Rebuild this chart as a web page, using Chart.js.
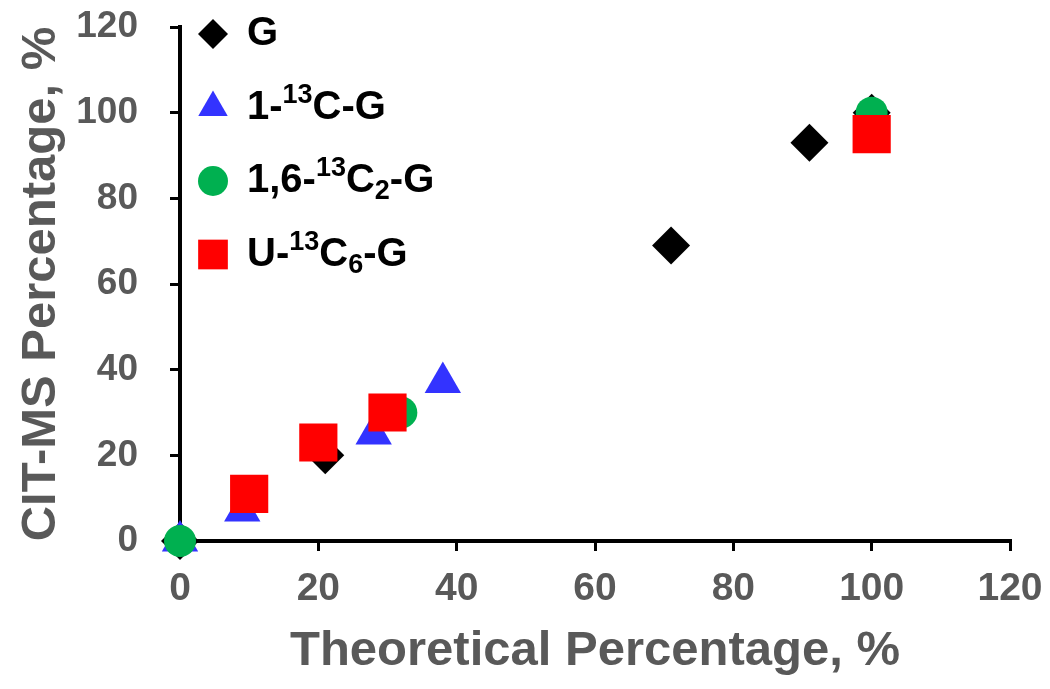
<!DOCTYPE html>
<html>
<head>
<meta charset="utf-8">
<title>CIT-MS vs Theoretical Percentage</title>
<script src="https://cdn.jsdelivr.net/npm/chart.js@4.4.0/dist/chart.umd.min.js"></script>
<style>
  body { margin: 0; background: #fff; }
  #contenedor { width: 1050px; height: 689px; }
</style>
</head>
<body>
<div id="contenedor"><canvas id="grafico"></canvas></div>
<script>
// Valores (porcentaje teórico vs porcentaje CIT-MS)
const gX = [0, 21, 71, 91, 100];
const gY = [0, 20, 69, 93, 100];

const c1X = [0, 9, 28, 38];
const c1Y = [0, 7, 25, 37];

const c2X = [0, 32, 100];
const c2Y = [0, 30, 100];

const c6X = [10, 20, 30, 100];
const c6Y = [11, 23, 30, 95];

const xTicks = [0, 20, 40, 60, 80, 100, 120];
const yTicks = [0, 20, 40, 60, 80, 100, 120];

// Etiquetas de la leyenda, con superíndices y subíndices
const leyenda = [
  [{ t: 'G' }],
  [{ t: '1-' }, { t: '13', s: 'sup' }, { t: 'C-G' }],
  [{ t: '1,6-' }, { t: '13', s: 'sup' }, { t: 'C' }, { t: '2', s: 'sub' }, { t: '-G' }],
  [{ t: 'U-' }, { t: '13', s: 'sup' }, { t: 'C' }, { t: '6', s: 'sub' }, { t: '-G' }]
];

const FUENTE = "'Liberation Sans', Arial, sans-serif";
const GRIS = '#595959';

function puntos(xs, ys) {
  return xs.map((x, i) => ({ x: x, y: ys[i] }));
}

function serie(xs, ys, estilo, color, radio, orden) {
  return {
    data: puntos(xs, ys),
    pointStyle: estilo,
    pointRadius: radio,
    pointHoverRadius: radio,
    backgroundColor: color,
    borderColor: color,
    borderWidth: 0,
    showLine: false,
    clip: false,
    order: orden
  };
}

// Tamaños de los marcadores en la leyenda
const radiosLeyenda = [15, 17, 15, 21];

// Plugin para dibujar la leyenda con sub/superíndices
const pluginLeyenda = {
  id: 'leyendaQuimica',
  afterDraw(chart) {
    const ctx = chart.ctx;
    const area = chart.chartArea;
    const tam = 40;
    ctx.save();
    leyenda.forEach((partes, i) => {
      const ds = chart.data.datasets[i];
      const mx = area.left + 33;
      const my = area.top + 7 + i * 73.5;
      ctx.fillStyle = ds.backgroundColor;
      ctx.strokeStyle = ds.backgroundColor;
      Chart.helpers.drawPoint(ctx, {
        pointStyle: ds.pointStyle,
        radius: radiosLeyenda[i],
        rotation: 0,
        borderWidth: 0
      }, mx, my);

      let x = area.left + 67;
      ctx.fillStyle = '#000';
      ctx.textBaseline = 'middle';
      ctx.textAlign = 'left';
      partes.forEach(p => {
        let size = tam;
        let dy = 0;
        if (p.s === 'sup') { size = 27; dy = -12; }
        if (p.s === 'sub') { size = 27; dy = 11; }
        ctx.font = 'bold ' + size + 'px ' + FUENTE;
        ctx.fillText(p.t, x, my + dy);
        x += ctx.measureText(p.t).width;
      });
    });
    ctx.restore();
  }
};

const ctx = document.getElementById('grafico').getContext('2d');
new Chart(ctx, {
  type: 'scatter',
  data: {
    datasets: [
      serie(gX, gY, 'rectRot', '#000000', 19, 4),
      serie(c1X, c1Y, 'triangle', '#3333FF', 21, 3),
      serie(c2X, c2Y, 'circle', '#00B050', 16, 2),
      serie(c6X, c6Y, 'rect', '#FF0000', 27, 1)
    ]
  },
  options: {
    responsive: true,
    maintainAspectRatio: false,
    animation: false,
    layout: { padding: { top: 25, right: 40, left: 0, bottom: 0 } },
    plugins: {
      legend: { display: false },
      tooltip: { enabled: false }
    },
    scales: {
      x: {
        type: 'linear',
        min: 0,
        max: 120,
        afterBuildTicks: (scale) => { scale.ticks = xTicks.map(v => ({ value: v })); },
        afterFit: (scale) => {
          scale.height = 148;
          scale.paddingLeft = 0;
          scale.paddingRight = 0;
        },
        ticks: {
          color: GRIS,
          font: { family: FUENTE, size: 39, weight: 'bold' },
          padding: 15
        },
        grid: {
          display: true,
          drawOnChartArea: false,
          drawTicks: true,
          tickLength: 10,
          color: '#000',
          lineWidth: 3
        },
        border: { display: true, color: '#000', width: 4 },
        title: {
          display: true,
          text: 'Theoretical Percentage, %',
          color: GRIS,
          font: { family: FUENTE, size: 49, weight: 'bold' },
          padding: { top: 0, bottom: 8 }
        }
      },
      y: {
        type: 'linear',
        min: 0,
        max: 120,
        afterBuildTicks: (scale) => { scale.ticks = yTicks.map(v => ({ value: v })); },
        afterFit: (scale) => {
          scale.width = 180;
          scale.paddingTop = 0;
          scale.paddingBottom = 0;
        },
        ticks: {
          color: GRIS,
          font: { family: FUENTE, size: 37, weight: 'bold' },
          padding: 32
        },
        grid: {
          display: true,
          drawOnChartArea: false,
          drawTicks: true,
          tickLength: 10,
          color: '#000',
          lineWidth: 3
        },
        border: { display: true, color: '#000', width: 4 },
        title: {
          display: true,
          text: 'CIT-MS Percentage, %',
          color: GRIS,
          font: { family: FUENTE, size: 49, weight: 'bold' },
          padding: { top: 12, bottom: 0 }
        }
      }
    }
  },
  plugins: [pluginLeyenda]
});
</script>
</body>
</html>
